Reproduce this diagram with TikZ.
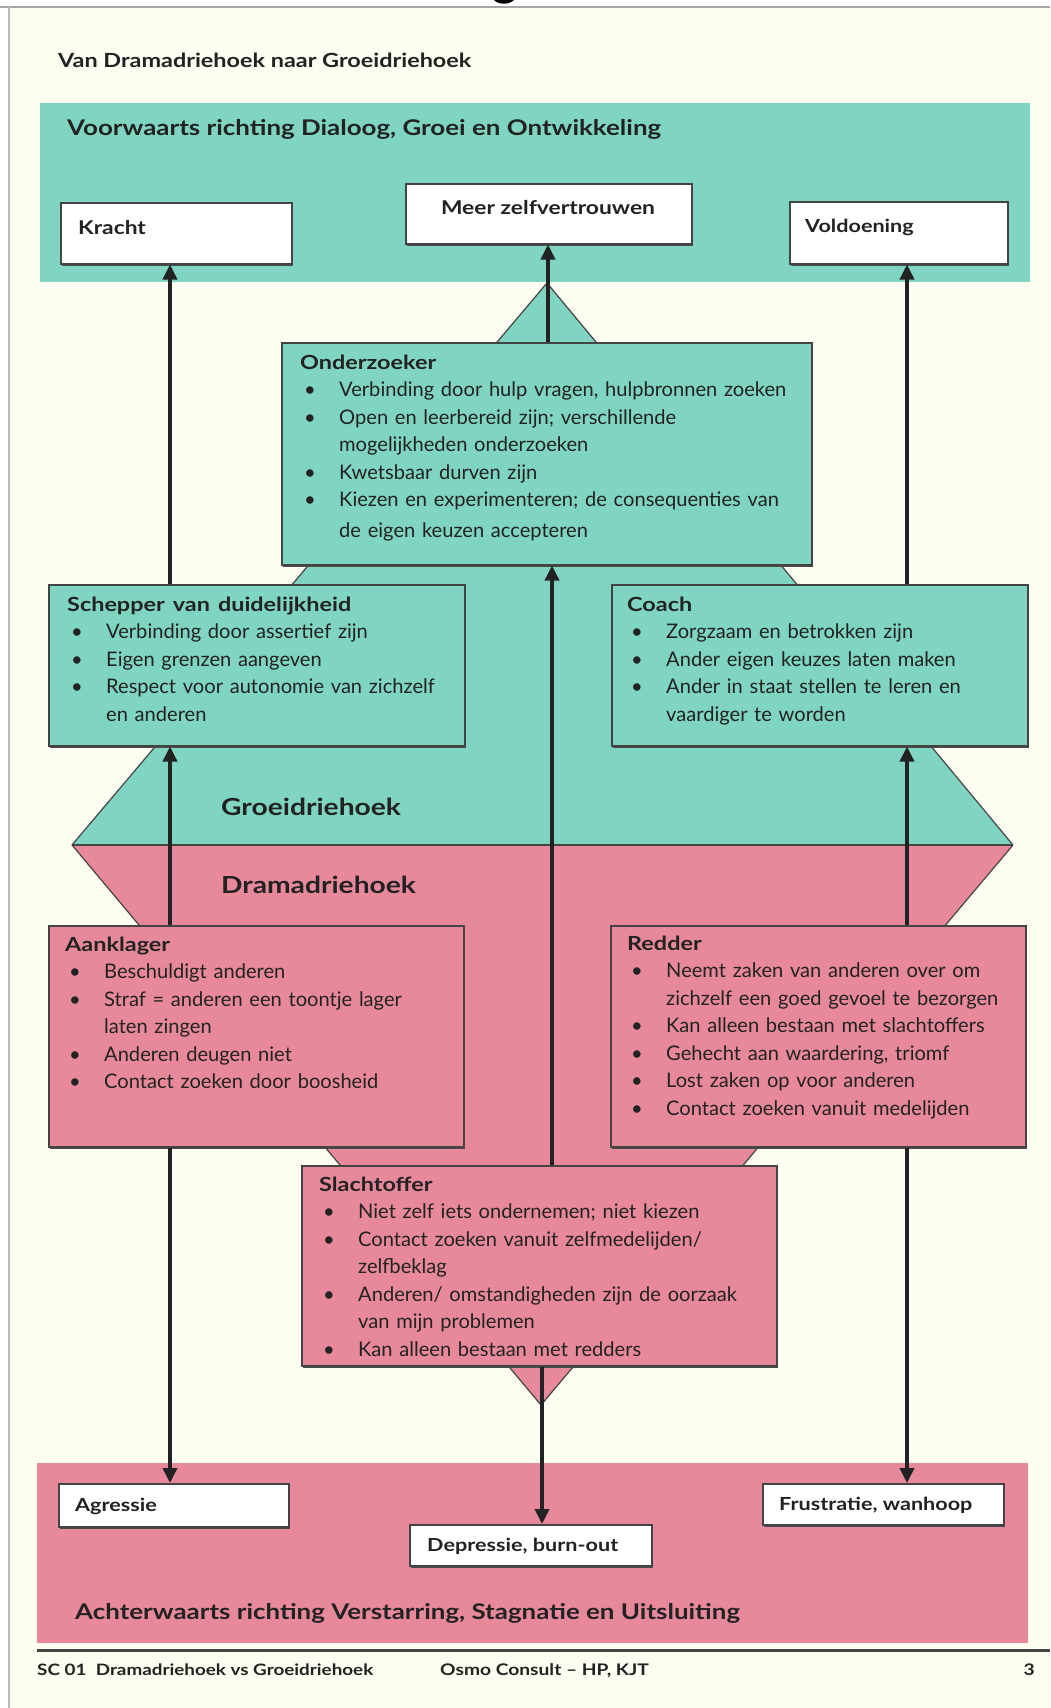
\documentclass[tikz,border=0pt]{standalone}
\usepackage{fontspec}
\setmainfont{Lato}
\usetikzlibrary{arrows.meta,shadows}
\definecolor{cream}{HTML}{FDFDF2}
\definecolor{tealc}{HTML}{7FD5C1}
\definecolor{pinkc}{HTML}{E8899B}
\definecolor{ink}{HTML}{222222}
\definecolor{edgec}{HTML}{444444}
\newcommand{\bul}{\hspace*{4pt}\makebox[35pt][l]{\textbullet}}
\newcommand{\cnt}{\hspace*{39pt}}
\newcommand{\bx}[1]{\scalebox{1.2}[1]{\bfseries #1}}
\newcommand{\bt}[1]{\scalebox{1.2}[1]{\fontsize{19.5}{27.5}\selectfont\bfseries #1}}
\begin{document}
\begin{tikzpicture}[x=1pt,y=-1pt,
  box/.style={rectangle, draw=edgec, line width=1.5pt, inner sep=0pt, anchor=north west,
    drop shadow={shadow xshift=1.5pt, shadow yshift=-2pt, fill=black!70, opacity=1}},
  wbox/.style={box, fill=white},
  tbox/.style={box, fill=tealc},
  pbox/.style={box, fill=pinkc},
  body/.style={inner sep=0pt, anchor=base west, text=ink, text width=520pt, align=left, font=\fontsize{20.1}{27.5}\selectfont},
  lbl/.style={inner sep=0pt, anchor=base west, text=ink},
  arr/.style={draw=ink, line width=3.5pt, -{Triangle[length=15pt,width=14pt]}}
]
\useasboundingbox (0,0) rectangle (1050,1708);
% page
\fill[white] (0,0) rectangle (1050,1708);
\fill[cream] (9,7) rectangle (1050,1708);
\begin{scope}
  \clip (0,0) rectangle (1050,6);
  \node[inner sep=0pt, anchor=base, text=black, font=\fontsize{48}{48}\selectfont\bfseries] (gfrag) at (505,-5) {g};
\end{scope}
\draw[gray!70, line width=1.6pt] (0,7) -- (1050,7);
\draw[gray!55, line width=1.2pt] (9,7) -- (9,1708);

\node[lbl, font=\fontsize{19.5}{24}\selectfont] (title) at (58,67) {\bx{Van Dramadriehoek naar Groeidriehoek}};

% bands
\fill[tealc] (40,103) rectangle (1030,282);
\fill[pinkc] (37,1463) rectangle (1028,1643);
\node[lbl, font=\fontsize{21.6}{26}\selectfont] (fwd) at (67,135) {\bx{Voorwaarts richting Dialoog, Groei en Ontwikkeling}};
\node[lbl, font=\fontsize{21.6}{26}\selectfont] (bwd) at (75,1619) {\bx{Achterwaarts richting Verstarring, Stagnatie en Uitsluiting}};

% diamond
\fill[tealc] (547,283) -- (1013,845) -- (72,845) -- cycle;
\fill[pinkc] (72,845) -- (1013,845) -- (541,1405) -- cycle;
\draw[edgec, line width=1.2pt, line join=round] (547,283) -- (1013,845) -- (541,1405) -- (72,845) -- cycle;
\draw[edgec, line width=2pt] (72,845) -- (1013,845);
\node[lbl, font=\fontsize{23.5}{28}\selectfont] (groei) at (221,815) {\bx{Groeidriehoek}};
\node[lbl, font=\fontsize{23.5}{28}\selectfont] (drama) at (221,893) {\bx{Dramadriehoek}};

% boxes
\node[wbox, minimum width=231pt, minimum height=61pt] (kracht) at (60,202) {};
\node[wbox, minimum width=286pt, minimum height=60pt] (meer) at (405,183) {};
\node[wbox, minimum width=218pt, minimum height=62pt] (vold) at (789,201) {};
\node[tbox, minimum width=530pt, minimum height=222pt] (onder) at (281,342) {};
\node[tbox, minimum width=416pt, minimum height=161pt] (schep) at (48,584) {};
\node[tbox, minimum width=416pt, minimum height=161pt] (coach) at (611,584) {};
\node[pbox, minimum width=415pt, minimum height=221pt] (aank) at (48,925) {};
\node[pbox, minimum width=415pt, minimum height=221pt] (redder) at (610,925) {};
\node[pbox, minimum width=475pt, minimum height=200pt] (slacht) at (301,1165) {};
\node[wbox, minimum width=230pt, minimum height=43pt] (agr) at (58,1483) {};
\node[wbox, minimum width=242pt, minimum height=41pt] (depr) at (409,1524) {};
\node[wbox, minimum width=241pt, minimum height=41pt] (frus) at (762,1483) {};

% small labels
\node[lbl, font=\fontsize{19}{23}\selectfont] (krachtT) at (78,234) {\bx{Kracht}};
\node[lbl, anchor=base, font=\fontsize{19}{23}\selectfont] (meerT) at (548,214) {\bx{Meer zelfvertrouwen}};
\node[lbl, font=\fontsize{18}{22}\selectfont] (voldT) at (805,232) {\bx{Voldoening}};
\node[lbl, font=\fontsize{18}{22}\selectfont] (agrT) at (75,1511) {\bx{Agressie}};
\node[lbl, font=\fontsize{18}{22}\selectfont] (deprT) at (427,1551) {\bx{Depressie, burn-out}};
\node[lbl, font=\fontsize{18}{22}\selectfont] (frusT) at (779,1510) {\bx{Frustratie, wanhoop}};

% box texts
\node[body] (onderT) at (300,369) {\bt{Onderzoeker}\\
\bul Verbinding door hulp vragen, hulpbronnen zoeken\\
\bul Open en leerbereid zijn; verschillende\\
\cnt mogelijkheden onderzoeken\\
\bul Kwetsbaar durven zijn\\
\bul Kiezen en experimenteren; de consequenties van\\[3pt]
\cnt de eigen keuzen accepteren};

\node[body] (schepT) at (67,611) {\bt{Schepper van duidelijkheid}\\
\bul Verbinding door assertief zijn\\
\bul Eigen grenzen aangeven\\
\bul Respect voor autonomie van zichzelf\\
\cnt en anderen};

\node[body] (coachT) at (627,611) {\bt{Coach}\\
\bul Zorgzaam en betrokken zijn\\
\bul Ander eigen keuzes laten maken\\
\bul Ander in staat stellen te leren en\\
\cnt vaardiger te worden};

\node[body] (aankT) at (65,951) {\bt{Aanklager}\\
\bul Beschuldigt anderen\\
\bul Straf = anderen een toontje lager\\
\cnt laten zingen\\
\bul Anderen deugen niet\\
\bul Contact zoeken door boosheid};

\node[body] (redderT) at (627,950) {\bt{Redder}\\
\bul Neemt zaken van anderen over om\\
\cnt zichzelf een goed gevoel te bezorgen\\
\bul Kan alleen bestaan met slachtoffers\\
\bul Gehecht aan waardering, triomf\\
\bul Lost zaken op voor anderen\\
\bul Contact zoeken vanuit medelijden};

\node[body] (slachtT) at (319,1191) {\bt{Slachtoffer}\\
\bul Niet zelf iets ondernemen; niet kiezen\\
\bul Contact zoeken vanuit zelfmedelijden/\\
\cnt zelfbeklag\\
\bul Anderen/ omstandigheden zijn de oorzaak\\
\cnt van mijn problemen\\
\bul Kan alleen bestaan met redders};

% arrows
\coordinate (lx) at (170,0);
\coordinate (cxa) at (548,0);
\coordinate (cxb) at (552,0);
\coordinate (cxc) at (542,0);
\coordinate (rx) at (907,0);
\draw[arr] (schep.north -| lx) -- (kracht.south -| lx);
\draw[arr] (aank.north -| lx) -- (schep.south -| lx);
\draw[arr] (aank.south -| lx) -- (agr.north -| lx);
\draw[arr] (onder.north -| cxa) -- (meer.south -| cxa);
\draw[arr] (slacht.north -| cxb) -- (onder.south -| cxb);
\draw[arr] (slacht.south -| cxc) -- (depr.north -| cxc);
\draw[arr] (coach.north -| rx) -- (vold.south -| rx);
\draw[arr] (redder.north -| rx) -- (coach.south -| rx);
\draw[arr] (redder.south -| rx) -- (frus.north -| rx);

% footer
\draw[edgec, line width=3pt] (37,1650) -- (1050,1650);
\node[lbl, font=\fontsize{15.7}{20}\selectfont] (foot1) at (37,1675) {\bx{SC 01\enspace Dramadriehoek vs Groeidriehoek}};
\node[lbl, font=\fontsize{16}{20}\selectfont] (foot2) at (440,1675) {\bx{Osmo Consult \textendash{} HP, KJT}};
\node[lbl, anchor=base east, font=\fontsize{16}{20}\selectfont] (pg) at (1035,1675) {\bx{3}};
\end{tikzpicture}
\end{document}
